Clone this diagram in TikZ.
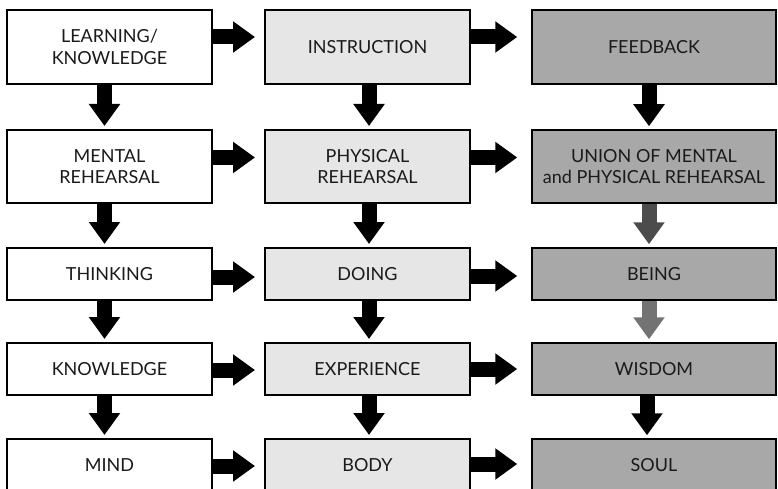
\documentclass[tikz,border=0pt]{standalone}
\usepackage{fontspec}
\setmainfont{Lato}
\usetikzlibrary{arrows.meta}
\definecolor{midgray}{HTML}{A8A8A8}
\definecolor{lightgray}{HTML}{E6E6E6}
\definecolor{txt}{HTML}{1A1A1A}
\begin{document}
\begin{tikzpicture}[x=1pt,y=-1pt,
  box/.style={draw=black, line width=2pt, rectangle, inner sep=0pt, align=center,
    font=\fontsize{18}{21.5}\selectfont, text=txt},
  cA/.style={box, fill=white, minimum width=205pt},
  cB/.style={box, fill=lightgray, minimum width=205pt},
  cC/.style={box, fill=midgray, minimum width=244pt, line width=1.5pt},
  tall/.style={minimum height=74pt},
  short/.style={minimum height=52pt},
  fat/.style={line width=15pt, -{Triangle[width=30pt,length=22pt]}, black},
]
\useasboundingbox (0,0) rectangle (778,489);
% row 1
\node[cA,tall] (a1) at (109.5,47) {LEARNING/\\KNOWLEDGE};
\node[cB,tall] (b1) at (367.5,47) {INSTRUCTION};
\node[cC,tall] (c1) at (654,47) {FEEDBACK};
% row 2
\node[cA,minimum height=73pt] (a2) at (109.5,166.5) {MENTAL\\REHEARSAL};
\node[cB,minimum height=73pt] (b2) at (367.5,166.5) {PHYSICAL\\REHEARSAL};
\node[cC,minimum height=73pt] (c2) at (654,166.5) {UNION OF MENTAL\\and PHYSICAL REHEARSAL};
% row 3
\node[cA,short] (a3) at (109.5,274) {THINKING};
\node[cB,short] (b3) at (367.5,274) {DOING};
\node[cC,short] (c3) at (654,274) {BEING};
% row 4
\node[cA,short] (a4) at (109.5,369) {KNOWLEDGE};
\node[cB,short] (b4) at (367.5,369) {EXPERIENCE};
\node[cC,short] (c4) at (654,369) {WISDOM};
% row 5
\node[cA,short] (a5) at (109.5,465) {MIND};
\node[cB,short] (b5) at (367.5,465) {BODY};
\node[cC,short] (c5) at (654,465) {SOUL};

% horizontal arrows
\draw[fat, shorten >=9pt] ([yshift=10pt]a1.east) -- ([yshift=10pt]b1.west);
\draw[fat, shorten >=14pt] ([yshift=10pt]b1.east) -- ([yshift=10pt]c1.west);
\draw[fat, shorten >=9pt] ([yshift=9pt]a2.east) -- ([yshift=9pt]b2.west);
\draw[fat, shorten >=14pt] ([yshift=9pt]b2.east) -- ([yshift=9pt]c2.west);
\draw[fat, shorten >=9pt] ([yshift=-3pt]a3.east) -- ([yshift=-3pt]b3.west);
\draw[fat, shorten >=14pt] ([yshift=-2pt]b3.east) -- ([yshift=-2pt]c3.west);
\draw[fat, shorten >=9pt] ([yshift=-1pt]a4.east) -- ([yshift=-1pt]b4.west);
\draw[fat, shorten >=14pt] ([yshift=0pt]b4.east) -- ([yshift=0pt]c4.west);
\draw[fat, shorten >=9pt] ([yshift=-1pt]a5.east) -- ([yshift=-1pt]b5.west);
\draw[fat, shorten >=14pt] ([yshift=1pt]b5.east) -- ([yshift=1pt]c5.west);

% vertical arrows
\foreach \u/\v in {a1/a2,a2/a3,a3/a4,a4/a5}
  \draw[fat, shorten >=3pt] ([xshift=-5pt]\u.south) -- ([xshift=-5pt]\v.north);
\foreach \u/\v in {b1/b2,b2/b3,b3/b4,b4/b5}
  \draw[fat, shorten >=3pt] ([xshift=1.5pt]\u.south) -- ([xshift=1.5pt]\v.north);
\draw[fat, shorten >=3pt] ([xshift=-5pt]c1.south) -- ([xshift=-5pt]c2.north);
\draw[fat, shorten >=3pt, draw=black!70, fill=black!60] ([xshift=-5pt]c2.south) -- ([xshift=-5pt]c3.north);
\draw[fat, shorten >=3pt, draw=black!55, fill=black!55] ([xshift=-5pt]c3.south) -- ([xshift=-5pt]c4.north);
\draw[fat, shorten >=3pt] ([xshift=-7pt]c4.south) -- ([xshift=-7pt]c5.north);
\end{tikzpicture}
\end{document}
